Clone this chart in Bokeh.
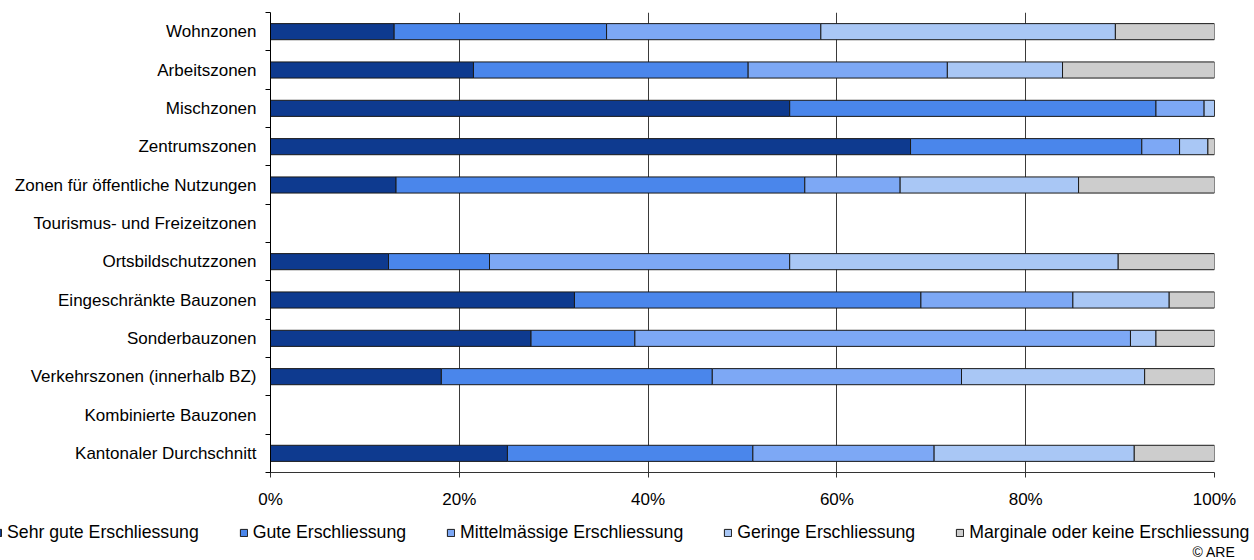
from bokeh.plotting import figure
from bokeh.models import (Range1d, FixedTicker, Legend, LegendItem, Label,
                          ColumnDataSource)
from bokeh.embed import file_html
from bokeh.resources import INLINE

# ---------------- data ----------------
categories = [
    "Wohnzonen",
    "Arbeitszonen",
    "Mischzonen",
    "Zentrumszonen",
    "Zonen für öffentliche Nutzungen",
    "Tourismus- und Freizeitzonen",
    "Ortsbildschutzzonen",
    "Eingeschränkte Bauzonen",
    "Sonderbauzonen",
    "Verkehrszonen (innerhalb BZ)",
    "Kombinierte Bauzonen",
    "Kantonaler Durchschnitt",
]
series_names = [
    "Sehr gute Erschliessung",
    "Gute Erschliessung",
    "Mittelmässige Erschliessung",
    "Geringe Erschliessung",
    "Marginale oder keine Erschliessung",
]
sehr_gut = [13.1, 21.5, 55.0, 67.8, 13.3, 0.0, 12.5, 32.2, 27.6, 18.1, 0.0, 25.1]
gut = [22.5, 29.1, 38.8, 24.5, 43.3, 0.0, 10.7, 36.7, 11.0, 28.7, 0.0, 26.0]
mittel = [22.7, 21.1, 5.1, 4.0, 10.1, 0.0, 31.8, 16.1, 52.5, 26.4, 0.0, 19.2]
gering = [31.2, 12.2, 1.1, 3.0, 18.9, 0.0, 34.8, 10.2, 2.7, 19.4, 0.0, 21.2]
marginal = [10.5, 16.1, 0.0, 0.7, 14.4, 0.0, 10.2, 4.8, 6.2, 7.4, 0.0, 8.5]
x_ticks = [0, 20, 40, 60, 80, 100]
x_tick_labels = ["0%", "20%", "40%", "60%", "80%", "100%"]
colors = ["#0E3A8F", "#4A86EB", "#7DA8F5", "#A9C7F5", "#CDCDCD"]
credit = "© ARE"

# ---------------- main figure ----------------
FONT = "Liberation Sans"
n = len(categories)
ypos = [n - 1 - i for i in range(n)]

p = figure(width=1254, height=515, output_backend="svg", toolbar_location=None,
           x_range=Range1d(0, 100), y_range=Range1d(-0.5, n - 0.5),
           min_border_left=270, min_border_right=40, min_border_top=12,
           min_border_bottom=43)
p.outline_line_color = None
p.background_fill_color = "white"
p.border_fill_color = "white"

keys = ["s0", "s1", "s2", "s3", "s4"]
src = ColumnDataSource(dict(y=ypos, s0=sehr_gut, s1=gut, s2=mittel, s3=gering, s4=marginal))
p.hbar_stack(keys, y="y", height=0.42, color=colors, source=src,
             line_color="#1a1a1a", line_width=1)

# x axis
p.xaxis.ticker = FixedTicker(ticks=x_ticks)
p.xaxis.major_label_overrides = {t: l for t, l in zip(x_ticks, x_tick_labels)}
p.xaxis.major_label_text_font = FONT
p.xaxis.major_label_text_font_size = "17px"
p.xaxis.major_label_text_color = "#000000"
p.xaxis.major_label_standoff = 12
p.xaxis.major_tick_in = 0
p.xaxis.major_tick_out = 5
p.xaxis.major_tick_line_color = "#333333"
p.xaxis.minor_tick_line_color = None
p.xaxis.axis_line_color = "#333333"

# y axis: labels at row centres, tick marks at row boundaries
boundaries = [i - 0.5 for i in range(n + 1)]
p.yaxis.ticker = FixedTicker(ticks=ypos, minor_ticks=boundaries)
p.yaxis.major_label_overrides = {y: c for y, c in zip(ypos, categories)}
p.yaxis.major_label_text_font = FONT
p.yaxis.major_label_text_font_size = "17px"
p.yaxis.major_label_text_color = "#000000"
p.yaxis.major_label_standoff = 9
p.yaxis.major_tick_line_color = None
p.yaxis.major_tick_in = 0
p.yaxis.major_tick_out = 0
p.yaxis.minor_tick_in = 0
p.yaxis.minor_tick_out = 5
p.yaxis.minor_tick_line_color = "#000000"
p.yaxis.axis_line_color = "#000000"

p.xgrid.grid_line_color = "#3a3a3a"
p.xgrid.grid_line_width = 1
p.ygrid.grid_line_color = None

# ---------------- legend strip (separate root, full-width frame) ----------------
p2 = figure(width=1254, height=45, output_backend="svg", toolbar_location=None,
            x_range=Range1d(0, 1254), y_range=Range1d(0, 45),
            x_axis_location=None, y_axis_location=None,
            min_border_left=0, min_border_right=0, min_border_top=0,
            min_border_bottom=0)
p2.outline_line_color = None
p2.grid.visible = False
p2.background_fill_color = "white"
p2.border_fill_color = "white"

# one off-screen row per swatch renderer, so the legend glyph has a value to draw
swatch_src = ColumnDataSource(dict(y=[-1000], left=[0], right=[1]))
items = []
for nm, c in zip(series_names, colors):
    r = p2.hbar(y="y", left="left", right="right", height=1, source=swatch_src,
                fill_color=c, line_color="#1a1a1a", line_width=1)
    items.append(LegendItem(label=nm, renderers=[r]))

leg = Legend(items=items, location=(-7, 17), orientation="horizontal",
             padding=0, margin=0, spacing=40,
             border_line_color=None, background_fill_alpha=0,
             label_text_font=FONT, label_text_font_size="17.7px",
             label_text_color="#000000",
             label_standoff=5, glyph_width=9, glyph_height=9,
             label_height=20)
p2.add_layout(leg)

p2.add_layout(Label(x=1235, y=9, text=credit, text_align="right",
                    text_baseline="middle", text_font=FONT,
                    text_font_size="14px", text_color="#000000"))

open("out.html", "w").write(file_html([p, p2], INLINE))
